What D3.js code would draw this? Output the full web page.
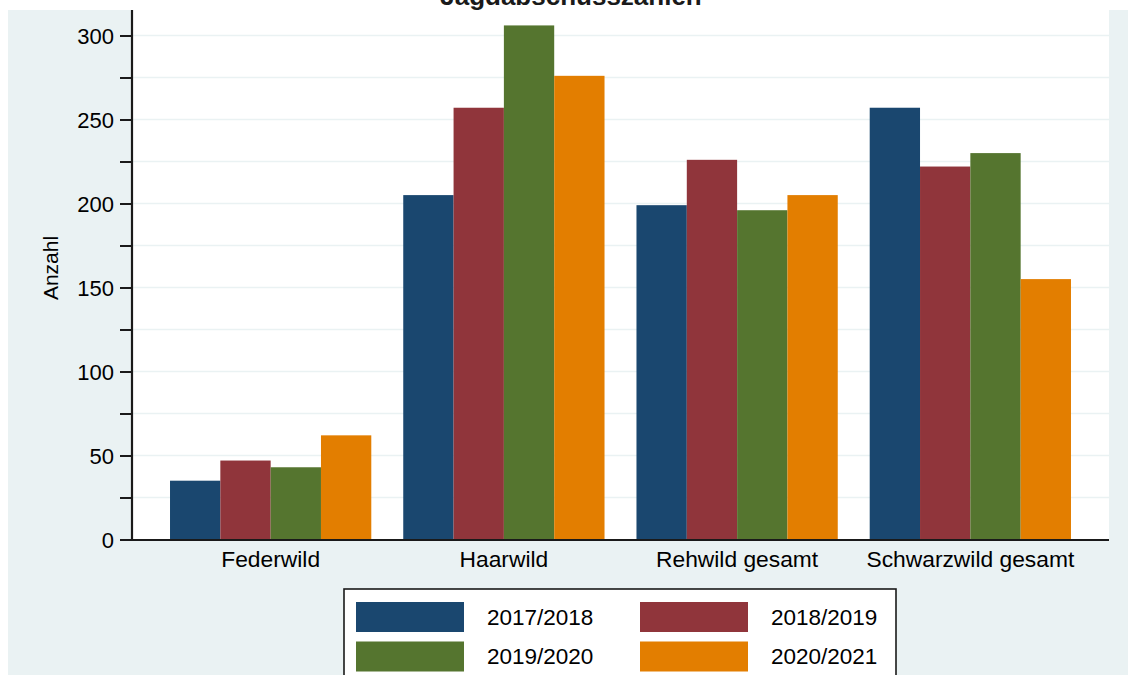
<!DOCTYPE html>
<html>
<head>
<meta charset="utf-8">
<script src="https://cdn.jsdelivr.net/npm/d3@7"></script>
<style>
  body { margin: 0; background: #ffffff; }
  svg text { font-family: "Liberation Sans", Arial, Helvetica, sans-serif; fill: #000; }
</style>
</head>
<body>
<div id="chart"></div>
<script>
// data
const categories = ["Federwild", "Haarwild", "Rehwild gesamt", "Schwarzwild gesamt"];
const seasons = ["2017/2018", "2018/2019", "2019/2020", "2020/2021"];
const values2017 = [35, 205, 199, 257];
const values2018 = [47, 257, 226, 222];
const values2019 = [43, 306, 196, 230];
const values2020 = [62, 276, 205, 155];
const yTicks = [0, 50, 100, 150, 200, 250, 300];
const yMinorTicks = [25, 75, 125, 175, 225, 275];
const colors = ["#1A476F", "#90353B", "#55752F", "#E37E00"];

const seriesValues = [values2017, values2018, values2019, values2020];

const W = 1128, H = 675;
const plot = {left: 132, right: 1109, top: 0, bottom: 540};

const svg = d3.select("#chart").append("svg")
    .attr("width", W)
    .attr("height", H);

// graph region
svg.append("rect")
    .attr("x", 8).attr("y", 10)
    .attr("width", W - 8).attr("height", H - 10)
    .attr("fill", "#EAF2F3");

// plot region
svg.append("rect")
    .attr("x", plot.left).attr("y", plot.top)
    .attr("width", plot.right - plot.left).attr("height", plot.bottom - plot.top)
    .attr("fill", "#ffffff");

// scales
const yScale = d3.scaleLinear()
    .domain([0, 300])
    .range([539.5, 35.5]);

const x0 = d3.scaleBand()
    .domain(categories)
    .range([plot.left, plot.right])
    .paddingInner(0.137)
    .paddingOuter(0.163);

const x1 = d3.scaleBand()
    .domain(seasons)
    .range([0, x0.bandwidth()]);

// gridlines
svg.append("g")
    .selectAll("line")
    .data(yTicks.concat(yMinorTicks).filter(d => d > 0))
    .enter().append("line")
    .attr("x1", plot.left).attr("x2", plot.right)
    .attr("y1", d => yScale(d)).attr("y2", d => yScale(d))
    .attr("stroke", "#EAF2F3")
    .attr("stroke-width", 1.6);

// bars
const groups = svg.append("g")
    .selectAll("g")
    .data(categories)
    .enter().append("g")
    .attr("transform", d => `translate(${x0(d)},0)`);

groups.selectAll("rect")
    .data((c, ci) => seasons.map((s, si) => ({season: s, value: seriesValues[si][ci], i: si})))
    .enter().append("rect")
    .attr("x", d => x1(d.season))
    .attr("y", d => yScale(d.value))
    .attr("width", x1.bandwidth())
    .attr("height", d => yScale(0) - yScale(d.value))
    .attr("fill", d => colors[d.i]);

// y axis
const yAxis = d3.axisLeft(yScale)
    .tickValues(yTicks)
    .tickSize(12)
    .tickPadding(6);

const yAxisG = svg.append("g")
    .attr("transform", `translate(${plot.left},0)`)
    .call(yAxis);
yAxisG.select(".domain").remove();
yAxisG.selectAll(".tick line").attr("stroke", "#1a1a1a").attr("stroke-width", 2);
yAxisG.selectAll(".tick text")
    .style("font-size", "22px")
    .attr("dy", "0.35em");

const yMinorAxis = d3.axisLeft(yScale)
    .tickValues(yMinorTicks)
    .tickSize(12)
    .tickFormat("");
const yMinorG = svg.append("g")
    .attr("transform", `translate(${plot.left},0)`)
    .call(yMinorAxis);
yMinorG.select(".domain").remove();
yMinorG.selectAll(".tick line").attr("stroke", "#1a1a1a").attr("stroke-width", 2);

svg.append("line")
    .attr("x1", plot.left).attr("x2", plot.left)
    .attr("y1", 10).attr("y2", 541)
    .attr("stroke", "#1a1a1a").attr("stroke-width", 2.2);

// x axis
svg.append("line")
    .attr("x1", plot.left).attr("x2", plot.right)
    .attr("y1", 540).attr("y2", 540)
    .attr("stroke", "#1a1a1a").attr("stroke-width", 2.2);

svg.append("g")
    .selectAll("text")
    .data(categories)
    .enter().append("text")
    .attr("x", d => x0(d) + x0.bandwidth() / 2)
    .attr("y", 567)
    .attr("text-anchor", "middle")
    .style("font-size", "22.8px")
    .text(d => d);

// y title
svg.append("text")
    .attr("transform", "translate(58,268) rotate(-90)")
    .attr("text-anchor", "middle")
    .style("font-size", "21px")
    .text("Anzahl");

// title (cut off at the top, as in the source image)
svg.append("text")
    .attr("x", 571)
    .attr("y", 5)
    .attr("text-anchor", "middle")
    .style("font-size", "26px")
    .style("font-weight", "bold")
    .style("fill", "#1a1a1a")
    .text("Jagdabschusszahlen");

// legend
const legend = svg.append("g");
legend.append("rect")
    .attr("x", 344).attr("y", 589)
    .attr("width", 552).attr("height", 110)
    .attr("fill", "#ffffff")
    .attr("stroke", "#1a1a1a")
    .attr("stroke-width", 1.6);

const legendItems = legend.selectAll("g")
    .data(seasons)
    .enter().append("g")
    .attr("transform", (d, i) => `translate(${356 + (i % 2) * 284},${602 + Math.floor(i / 2) * 39.5})`);

legendItems.append("rect")
    .attr("width", 108).attr("height", 30)
    .attr("fill", (d, i) => colors[i]);

legendItems.append("text")
    .attr("x", 131)
    .attr("y", 15)
    .attr("dy", "0.35em")
    .style("font-size", "22.5px")
    .text(d => d);
</script>
</body>
</html>
